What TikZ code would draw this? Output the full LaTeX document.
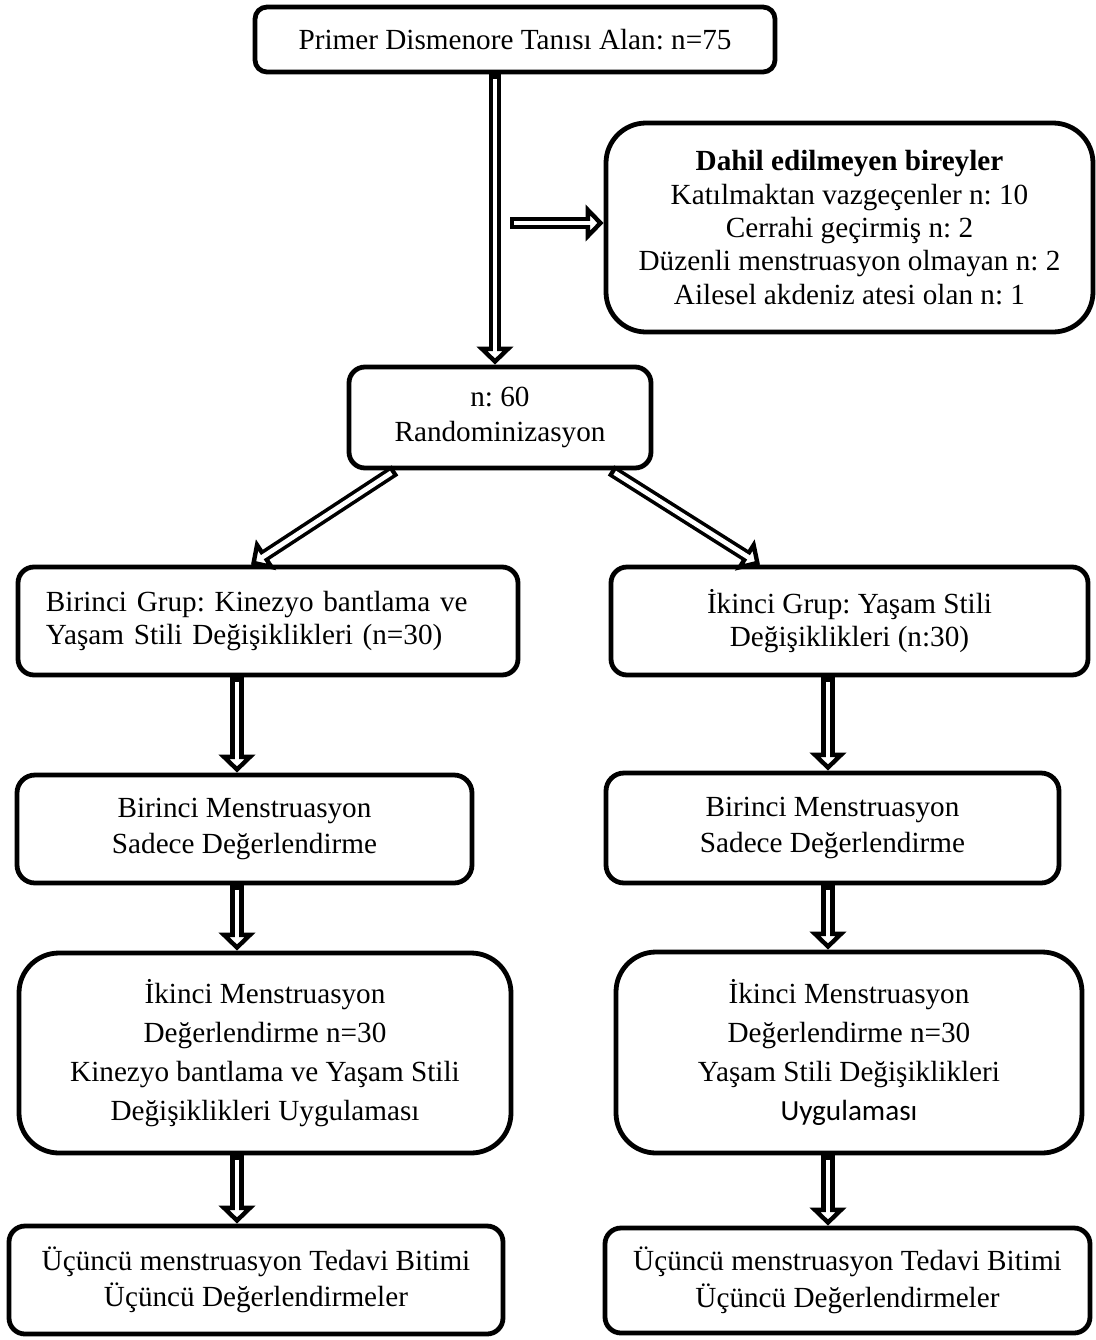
\documentclass[tikz,border=0pt]{standalone}
\usepackage{fontspec}
\setmainfont{Liberation Serif}
\newfontfamily\carlito{Carlito}
\usepackage{tikz}
\usetikzlibrary{arrows.meta,positioning}
\frenchspacing

\tikzset{
    box/.style={draw,line width=2.4pt,rounded corners=#1,align=center,inner sep=0pt,
        font=\fontsize{14.6}{18.3}\selectfont},
    box/.default=8pt,
    dbl/.style={line width=#1,
        -{Triangle[open,fill=white,length=9pt,width=18pt,line width=2.2pt]},
        postaction={draw,white,line width=2.4pt,-,shorten <=2.2pt,shorten >=4.5pt}},
    dbl/.default=7pt
}

\begin{document}
\begin{tikzpicture}[x=.5pt,y=-.5pt]
    \useasboundingbox (0,0) rectangle (1096,1340);

    % top part
    \node[box=6pt,minimum width=260pt,minimum height=32.5pt] (diag) at (515,39.5) {Primer Dismenore Tanısı Alan: n=75};
    \node[box=20pt,minimum width=243.5pt,minimum height=104.5pt,font=\fontsize{14.6}{16.7}\selectfont] (excl) at (849.5,227.5)
        {\textbf{Dahil edilmeyen bireyler}\\Katılmaktan vazgeçenler n: 10\\Cerrahi geçirmiş n: 2\\Düzenli menstruasyon olmayan n: 2\\Ailesel akdeniz atesi olan n: 1};
    \node[box,minimum width=151pt,minimum height=50.5pt,font=\fontsize{14.6}{17.5}\selectfont] (rand) at (500,417.5) {n: 60\\Randominizasyon};
    \coordinate (split) at (510,223);

    % groups
    \node[box,minimum width=250pt,minimum height=54pt,text width=222pt,align=left,font=\fontsize{14.6}{16.5}\selectfont] (grpA) at (268,621)
        {Birinci Grup: Kinezyo bantlama ve\\Yaşam Stili Değişiklikleri (n=30)};
    \node[box,minimum width=238.5pt,minimum height=54pt,font=\fontsize{14.6}{16.5}\selectfont] (grpB) at (849.5,621)
        {İkinci Grup: Yaşam Stili\\Değişiklikleri (n:30)};

    \node[box=9pt,minimum width=227.5pt,minimum height=54pt] (firstA) at (244.5,829) {Birinci Menstruasyon\\Sadece Değerlendirme};
    \node[box=9pt,minimum width=226.5pt,minimum height=55pt] (firstB) at (832.5,828) {Birinci Menstruasyon\\Sadece Değerlendirme};

    \node[box=20pt,minimum width=246pt,minimum height=100pt,font=\fontsize{14.6}{19.5}\selectfont] (secondA) at (265,1053)
        {İkinci Menstruasyon\\Değerlendirme n=30\\Kinezyo bantlama ve Yaşam Stili\\Değişiklikleri Uygulaması};
    \node[box=20pt,minimum width=233pt,minimum height=100.5pt,font=\fontsize{14.6}{19.5}\selectfont] (secondB) at (849,1052.5)
        {İkinci Menstruasyon\\Değerlendirme n=30\\Yaşam Stili Değişiklikleri\\{\carlito Uygulaması}};

    \node[box,minimum width=247pt,minimum height=54pt] (thirdA) at (256,1280)
        {Üçüncü menstruasyon Tedavi Bitimi\\Üçüncü Değerlendirmeler};
    \node[box,minimum width=242.5pt,minimum height=52.5pt] (thirdB) at (847.5,1280.5)
        {Üçüncü menstruasyon Tedavi Bitimi\\Üçüncü Değerlendirmeler};

    % arrows
    \coordinate (colM) at (495,0);
    \coordinate (colA) at (237,0);
    \coordinate (colB) at (828,0);
    \draw[dbl=6pt] (diag.south -| colM) -- (rand.north -| colM);
    \draw[dbl=6pt] (split) -- (split -| excl.west);
    \draw[dbl=6pt] ([xshift=-52.5pt]rand.south) -- ([xshift=-8.5pt]grpA.north);
    \draw[dbl=6pt] ([xshift=55.5pt]rand.south) -- ([xshift=-44.75pt]grpB.north);
    \foreach \a/\b in {grpA/firstA,firstA/secondA,secondA/thirdA}
        \draw[dbl] (\a.south -| colA) -- (\b.north -| colA);
    \foreach \a/\b in {grpB/firstB,firstB/secondB,secondB/thirdB}
        \draw[dbl] (\a.south -| colB) -- (\b.north -| colB);
\end{tikzpicture}
\end{document}
